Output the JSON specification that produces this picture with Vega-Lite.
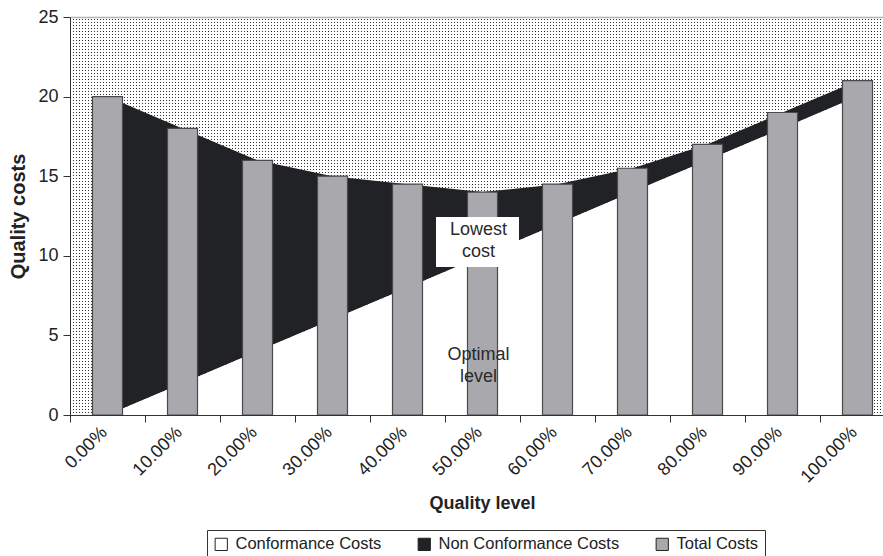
{
  "$schema": "https://vega.github.io/schema/vega-lite/v6.json",
  "autosize": "none",
  "width": 813,
  "height": 398,
  "padding": {"left": 70, "top": 17, "right": 0, "bottom": 141},
  "background": "white",
  "config": {
    "view": {"stroke": null},
    "font": "Liberation Sans",
    "axis": {
      "labelFont": "Liberation Sans",
      "labelFontSize": 18,
      "labelColor": "#222",
      "titleFont": "Liberation Sans",
      "titleFontSize": 18,
      "titleFontWeight": "bold",
      "titleColor": "#222",
      "domainColor": "#333",
      "tickColor": "#333"
    }
  },
  "datasets": {
    "costs": [
      {"level": "0.00%", "conformance": 0, "total": 20},
      {"level": "10.00%", "conformance": 2, "total": 18},
      {"level": "20.00%", "conformance": 4, "total": 16},
      {"level": "30.00%", "conformance": 6, "total": 15},
      {"level": "40.00%", "conformance": 8, "total": 14.5},
      {"level": "50.00%", "conformance": 10, "total": 14},
      {"level": "60.00%", "conformance": 12, "total": 14.5},
      {"level": "70.00%", "conformance": 14, "total": 15.5},
      {"level": "80.00%", "conformance": 16, "total": 17},
      {"level": "90.00%", "conformance": 18, "total": 19},
      {"level": "100.00%", "conformance": 20, "total": 21}
    ],
    "notes": [
      {"level": "50.00%", "label": "Lowest\ncost", "y": 11.62, "boxTop": 12.44, "boxBottom": 9.3},
      {"level": "50.00%", "label": "Optimal\nlevel", "y": 3.77, "boxTop": null, "boxBottom": null}
    ]
  },
  "resolve": {"scale": {"y": "independent"}, "axis": {"y": "independent"}},
  "layer": [
    {
      "data": {"name": "costs"},
      "mark": {"type": "rule", "opacity": 0},
      "encoding": {
        "y": {
          "field": "total", "type": "quantitative",
          "scale": {"domain": [0, 132.6667], "nice": false, "zero": true},
          "axis": {
            "orient": "right", "grid": true, "tickCount": 133, "gridDash": [1, 2], "gridDashOffset": 0.5,
            "gridColor": "#333333", "gridWidth": 1, "gridOpacity": 1, "labels": false, "ticks": false,
            "domain": false, "title": null
          }
        }
      }
    },
    {
      "resolve": {"axis": {"x": "independent", "y": "independent"}},
      "layer": [
        {
          "data": {"name": "costs"},
          "mark": {"type": "area", "stroke": null},
          "encoding": {
            "x": {
              "field": "level", "type": "nominal", "sort": null,
              "scale": {
                "domain": ["0.00%", "10.00%", "20.00%", "30.00%", "40.00%", "50.00%", "60.00%", "70.00%", "80.00%", "90.00%", "100.00%"],
                "paddingInner": 0.6, "paddingOuter": 0.22, "align": 0.682
              },
              "axis": {
                "title": "Quality level", "titleX": 412, "titlePadding": 8,
                "labelAngle": -45, "labelAlign": "right", "labelBaseline": "alphabetic",
                "labelPadding": 11, "tickSize": 7, "tickOffset": -37.5, "labelOffset": 37.5,
                "zindex": 1, "grid": false
              }
            },
            "y": {
              "field": "total", "type": "quantitative",
              "scale": {"domain": [0, 25], "nice": false, "zero": true},
              "axis": {
                "title": "Quality costs", "titleFontSize": 20, "values": [0, 5, 10, 15, 20, 25], "grid": false,
                "tickSize": 7, "labelPadding": 5, "titlePadding": 9, "zindex": 1
              }
            },
            "y2": {"field": "conformance"},
            "fill": {
              "datum": "Non Conformance Costs", "type": "nominal",
              "scale": {
                "domain": ["Conformance Costs", "Non Conformance Costs", "Total Costs"],
                "range": ["#ffffff", "#212226", "#a9a8ac"]
              },
              "legend": {
                "orient": "none", "legendX": 137, "legendY": 513,
                "direction": "horizontal", "title": null,
                "symbolType": "square", "symbolSize": 150,
                "symbolStrokeColor": "#222", "symbolStrokeWidth": 1,
                "labelFont": "Liberation Sans", "labelFontSize": 16.5, "labelColor": "#222",
                "labelOffset": 6, "labelLimit": 400, "columnPadding": 34,
                "padding": 6, "strokeColor": "#333", "fillColor": "white",
                "encode": {"symbols": {"update": {"stroke": {"value": "#222"}, "strokeWidth": {"value": 1}}}}
              }
            }
          }
        },
        {
          "data": {"name": "costs"},
          "mark": {"type": "area", "stroke": null},
          "encoding": {
            "x": {"field": "level", "type": "nominal", "sort": null, "axis": null},
            "y": {"field": "conformance", "type": "quantitative", "axis": null},
            "fill": {"datum": "Conformance Costs", "type": "nominal"}
          }
        },
        {
          "data": {"name": "costs"},
          "mark": {"type": "bar", "stroke": "#4a4a4a", "strokeWidth": 1.2},
          "encoding": {
            "x": {
              "field": "level", "type": "nominal", "sort": null,
              "axis": {"orient": "top", "labels": false, "ticks": false, "title": null, "grid": false, "domainColor": "#b4b4b4", "domainWidth": 1.5}
            },
            "y": {"field": "total", "type": "quantitative", "axis": null},
            "fill": {"datum": "Total Costs", "type": "nominal"}
          }
        },
        {
          "data": {"name": "notes"},
          "transform": [{"filter": "datum.boxTop != null"}],
          "mark": {"type": "bar", "fill": "white", "width": 83, "xOffset": -5},
          "encoding": {
            "x": {"field": "level", "type": "nominal", "sort": null, "axis": null},
            "y": {"field": "boxTop", "type": "quantitative", "axis": null},
            "y2": {"field": "boxBottom"}
          }
        },
        {
          "data": {"name": "notes"},
          "mark": {"type": "text", "font": "Liberation Sans", "fontSize": 18, "color": "#2a2a2a", "lineBreak": "\n", "lineHeight": 22, "baseline": "middle", "align": "center", "xOffset": -4},
          "encoding": {
            "x": {"field": "level", "type": "nominal", "sort": null, "axis": null},
            "y": {"field": "y", "type": "quantitative", "axis": null},
            "text": {"field": "label"}
          }
        }
      ]
    }
  ]
}
